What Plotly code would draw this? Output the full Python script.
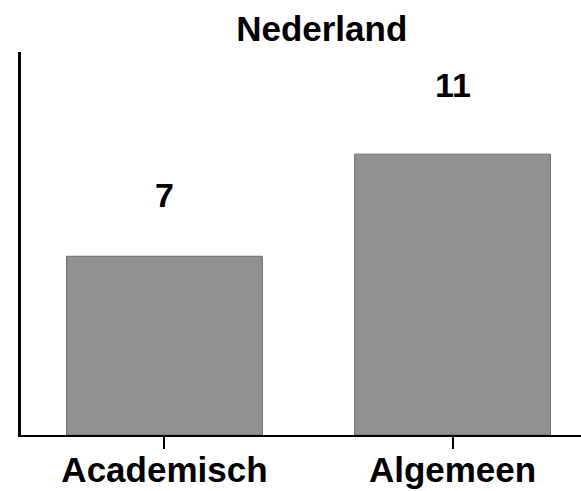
import plotly.graph_objects as go

categories = ["Academisch", "Algemeen"]
values = [7, 11]
title_text = "Nederland"

FONT = "Arial, Liberation Sans, sans-serif"

fig = go.Figure()
fig.add_trace(go.Bar(
    x=categories, y=values, width=0.68,
    marker=dict(color="#919191", line=dict(color="#6e6e6e", width=1)),
    hoverinfo="skip",
))

label_shift = [40, 48]
for c, v, s in zip(categories, values, label_shift):
    fig.add_annotation(x=c, y=v, text=f"<b>{v}</b>", showarrow=False,
                       yanchor="bottom", yshift=s,
                       font=dict(family=FONT, size=34, color="black"))

fig.update_layout(
    width=581, height=491,
    margin=dict(l=21, r=0, t=52, b=56, autoexpand=False),
    paper_bgcolor="white", plot_bgcolor="white",
    showlegend=False,
    title=dict(text=f"<b>{title_text}</b>", x=0.537, xref="paper", xanchor="center",
               y=1 - 29 / 491, yref="container", yanchor="middle",
               font=dict(family=FONT, size=35, color="black")),
    font=dict(family=FONT, color="black"),
)
fig.update_xaxes(range=[-0.498, 1.446], showline=True, linecolor="black", linewidth=2,
                 ticks="outside", ticklen=12, tickwidth=2, tickcolor="black",
                 tickfont=dict(family=FONT, size=35, color="black"), automargin=False,
                 ticklabelstandoff=-9,
                 tickprefix="<b>", ticksuffix="</b>", showgrid=False, zeroline=False)
fig.update_yaxes(range=[0, 15], showline=True, linecolor="black", linewidth=3,
                 ticks="", showticklabels=False, showgrid=False, zeroline=False,
                 automargin=False)

fig.write_html("out.html", config={"displayModeBar": False},
               post_script="document.body.style.margin='0';")
